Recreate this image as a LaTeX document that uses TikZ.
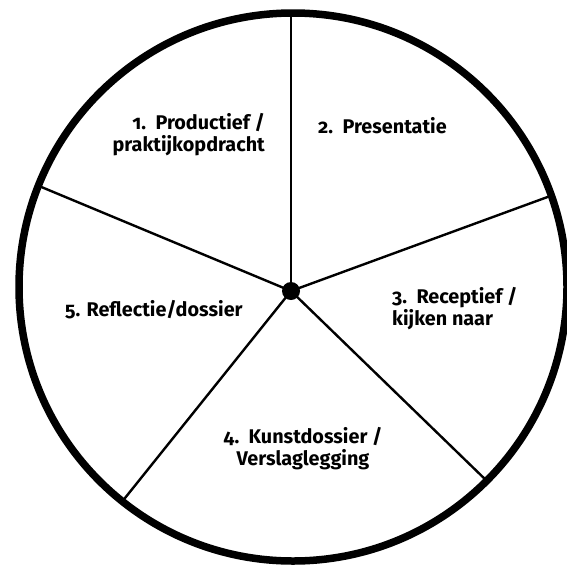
\documentclass[tikz,border=0pt]{standalone}
\usepackage{fontspec}
\setmainfont{Fira Sans}[Numbers=OldStyle]
\usetikzlibrary{positioning}

\tikzset{
    rim/.style={line width=7.5pt},
    spoke/.style={line width=2.4pt},
    lbl/.style={font=\fontsize{19.8}{21.5}\selectfont\bfseries, inner sep=0pt}
}

\begin{document}
\begin{tikzpicture}[x=1pt, y=-1pt]

        \useasboundingbox (0,0) rectangle (567,565);

        \coordinate (mid) at (293,287);
        \coordinate (top) at (291,12);
        \coordinate (upleft) at (39,186);
        \coordinate (upright) at (553,195);
        \coordinate (lowright) at (489,483);
        \coordinate (lowleft) at (121,503);

        \node[circle, fill, inner sep=0pt, minimum size=18pt] (hub) at (291,291) {};

        \path[draw, spoke] (hub.center) -- (top);
        \path[draw, spoke] (hub.center) -- (upleft);
        \path[draw, spoke] (hub.center) -- (upright);
        \path[draw, spoke] (hub.center) -- (lowright);
        \path[draw, spoke] (hub.center) -- (lowleft);

        \path[draw, rim] (mid) circle (274);

        % Labels of the five parts
        \node[lbl, align=right, anchor=base east] (prod) at (265,151) {1.\ \ Productief /\\praktijkopdracht};
        \node[lbl, anchor=base west] (pres) at (318,133) {2.\ \ Presentatie};
        \node[lbl, align=left, anchor=base west] (recep) at (392,325) {3.\ \ Receptief /\\kijken naar};
        \node[lbl, align=center, anchor=base] (kunst) at (303,465) {4.\ \ Kunstdossier /\\Verslaglegging};
        \node[lbl, anchor=base west] (refl) at (65,316) {5. Reflectie/dossier};

    \end{tikzpicture}
\end{document}
